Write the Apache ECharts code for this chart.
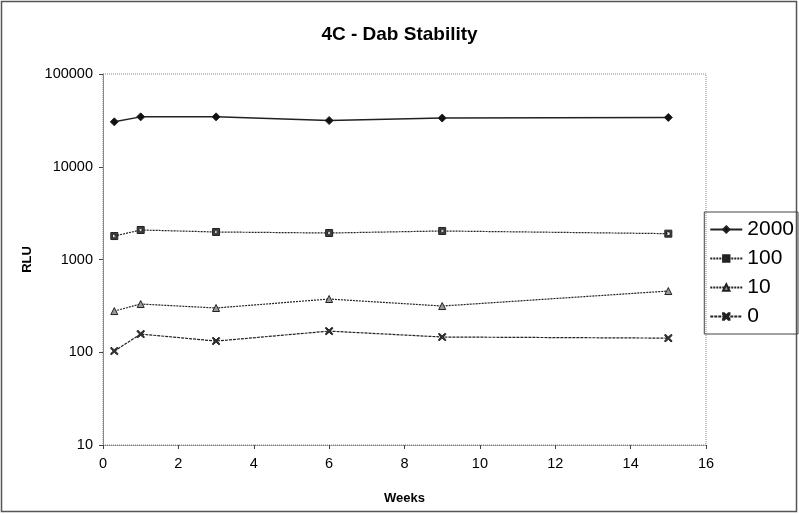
<!DOCTYPE html>
<html>
<head>
<meta charset="utf-8">
<script src="https://cdn.jsdelivr.net/npm/echarts@6/dist/echarts.min.js"></script>
<style>
  html, body { margin: 0; padding: 0; background: #fff; }
  #chart { width: 799px; height: 514px; }
</style>
</head>
<body>
<div id="chart"></div>
<script>
// weeks at which each sample was read
var weeks = [0.3, 1, 3, 6, 9, 15];
// RLU per concentration
var rlu2000 = [30500, 34500, 34500, 31500, 33500, 34000];
var rlu100 = [1790, 2080, 1980, 1930, 2030, 1900];
var rlu10 = [278, 331, 300, 375, 315, 457];
var rlu0 = [103, 157, 132, 169, 146, 142];
var seriesNames = ['2000', '100', '10', '0'];

var xMark = 'path://M0,0 L1.5,0 L5,3.5 L8.5,0 L10,0 L10,1.5 L6.5,5 L10,8.5 L10,10 L8.5,10 L5,6.5 L1.5,10 L0,10 L0,8.5 L3.5,5 L0,1.5 Z';
var boxMark = 'path://M0,0 L10,0 L10,10 L0,10 Z M2.5,2.5 L2.5,7.5 L7.5,7.5 L7.5,2.5 Z';

function pairs(vals) {
    return weeks.map(function (w, i) { return [w, vals[i]]; });
}

var chart = echarts.init(document.getElementById('chart'));

function line(name, vals, symbol, size, width, dash, fill) {
    return {
        name: name,
        type: 'line',
        data: pairs(vals),
        symbol: symbol,
        symbolSize: size,
        showSymbol: true,
        lineStyle: { color: '#222', width: width, type: dash },
        itemStyle: { color: fill, borderColor: '#222', borderWidth: 1 },
        emphasis: { disabled: true }
    };
}

chart.setOption({
    animation: false,
    textStyle: { fontFamily: 'Liberation Sans, Arial, sans-serif' },
    graphic: [{
        type: 'rect',
        shape: { x: 1.5, y: 1.5, width: 795, height: 510 },
        style: { fill: 'none', stroke: '#555', lineWidth: 1.5 },
        silent: true
    }],
    title: {
        text: '4C - Dab Stability',
        left: 'center',
        top: 20,
        textStyle: { fontSize: 19, fontWeight: 'bold', color: '#000' }
    },
    legend: {
        orient: 'vertical',
        right: 1,
        top: 212,
        width: 92,
        padding: [7, 4, 7, 5],
        borderColor: '#444',
        borderWidth: 1,
        itemGap: 8,
        itemWidth: 32,
        itemHeight: 8,
        data: seriesNames,
        textStyle: { fontSize: 21, color: '#000' }
    },
    grid: {
        left: 103,
        right: 93,
        top: 74,
        bottom: 69,
        show: true,
        borderColor: '#888',
        borderWidth: 1,
        borderType: 'dotted'
    },
    xAxis: {
        type: 'value',
        min: 0,
        max: 16,
        interval: 2,
        name: 'Weeks',
        nameLocation: 'middle',
        nameGap: 47,
        nameTextStyle: { fontSize: 13, fontWeight: 'bold', color: '#000' },
        axisLine: { lineStyle: { color: '#888', type: 'dotted' } },
        axisTick: { inside: false, length: 4, lineStyle: { color: '#444' } },
        axisLabel: { fontSize: 14.5, color: '#000', margin: 11 },
        splitLine: { show: false }
    },
    yAxis: {
        type: 'log',
        logBase: 10,
        min: 10,
        max: 100000,
        name: 'RLU',
        nameLocation: 'middle',
        nameGap: 64,
        nameRotate: 90,
        nameTextStyle: { fontSize: 13, fontWeight: 'bold', color: '#000' },
        axisLine: { show: true, lineStyle: { color: '#888' } },
        axisTick: { show: true, length: 4, lineStyle: { color: '#444' } },
        axisLabel: {
            fontSize: 14.5,
            color: '#000',
            margin: 10,
            formatter: function (v) { return String(Math.round(v)); }
        },
        splitLine: { show: false },
        minorTick: { show: false }
    },
    series: [
        line('2000', rlu2000, 'diamond', 8, 1.5, 'solid', '#111'),
        line('100', rlu100, boxMark, 7, 1.2, [2, 1], '#444'),
        line('10', rlu10, 'triangle', 7, 1.2, [2, 1], '#999'),
        line('0', rlu0, xMark, 7, 1.2, [3, 1], '#333')
    ]
});
</script>
</body>
</html>
